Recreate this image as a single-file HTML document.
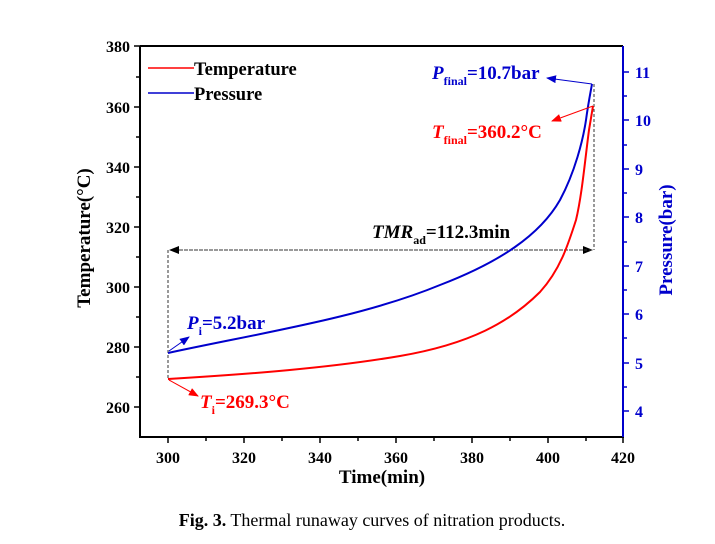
<!DOCTYPE html>
<html><head><meta charset="utf-8"><style>
html,body{margin:0;padding:0;background:#fff;}
svg{display:block;}
text{font-family:"Liberation Serif",serif;font-weight:bold;}
.cap{font-weight:normal;}
</style></head><body>
<svg width="715" height="544" viewBox="0 0 715 544" xmlns="http://www.w3.org/2000/svg">
<defs>
<marker id="ak" markerWidth="10" markerHeight="8" refX="9" refY="4" orient="auto" markerUnits="userSpaceOnUse"><path d="M0,0 L10,4 L0,8 z" fill="#000"/></marker>
<marker id="ab" markerWidth="10" markerHeight="8" refX="9" refY="4" orient="auto" markerUnits="userSpaceOnUse"><path d="M0,0 L10,4 L0,8 z" fill="#00c"/></marker>
<marker id="ar" markerWidth="10" markerHeight="8" refX="9" refY="4" orient="auto" markerUnits="userSpaceOnUse"><path d="M0,0 L10,4 L0,8 z" fill="#f00"/></marker>
</defs>
<line x1="140" y1="46" x2="623" y2="46" stroke="#000" stroke-width="2"/>
<line x1="140" y1="46" x2="140" y2="437" stroke="#000" stroke-width="2"/>
<line x1="139" y1="437" x2="624" y2="437" stroke="#000" stroke-width="2"/>
<line x1="623" y1="46" x2="623" y2="437" stroke="#00c" stroke-width="2"/>
<g stroke="#000" stroke-width="1.5">
<line x1="134" y1="46" x2="140" y2="46"/><line x1="134" y1="107" x2="140" y2="107"/><line x1="134" y1="167" x2="140" y2="167"/><line x1="134" y1="227" x2="140" y2="227"/><line x1="134" y1="287" x2="140" y2="287"/><line x1="134" y1="347" x2="140" y2="347"/><line x1="134" y1="407" x2="140" y2="407"/>
<line x1="136" y1="77" x2="140" y2="77"/><line x1="136" y1="137" x2="140" y2="137"/><line x1="136" y1="197" x2="140" y2="197"/><line x1="136" y1="257" x2="140" y2="257"/><line x1="136" y1="317" x2="140" y2="317"/><line x1="136" y1="377" x2="140" y2="377"/>
<line x1="168" y1="437" x2="168" y2="443"/><line x1="244" y1="437" x2="244" y2="443"/><line x1="320" y1="437" x2="320" y2="443"/><line x1="396" y1="437" x2="396" y2="443"/><line x1="472" y1="437" x2="472" y2="443"/><line x1="548" y1="437" x2="548" y2="443"/><line x1="623" y1="437" x2="623" y2="443"/>
<line x1="206" y1="437" x2="206" y2="441"/><line x1="282" y1="437" x2="282" y2="441"/><line x1="358" y1="437" x2="358" y2="441"/><line x1="434" y1="437" x2="434" y2="441"/><line x1="510" y1="437" x2="510" y2="441"/><line x1="586" y1="437" x2="586" y2="441"/>
</g>
<g stroke="#00c" stroke-width="1.5">
<line x1="623" y1="72" x2="629" y2="72"/><line x1="623" y1="120" x2="629" y2="120"/><line x1="623" y1="169" x2="629" y2="169"/><line x1="623" y1="217" x2="629" y2="217"/><line x1="623" y1="266" x2="629" y2="266"/><line x1="623" y1="314" x2="629" y2="314"/><line x1="623" y1="363" x2="629" y2="363"/><line x1="623" y1="411" x2="629" y2="411"/>
<line x1="623" y1="96" x2="627" y2="96"/><line x1="623" y1="145" x2="627" y2="145"/><line x1="623" y1="193" x2="627" y2="193"/><line x1="623" y1="242" x2="627" y2="242"/><line x1="623" y1="290" x2="627" y2="290"/><line x1="623" y1="338" x2="627" y2="338"/><line x1="623" y1="387" x2="627" y2="387"/>
</g>
<g font-size="16" text-anchor="end" fill="#000">
<text x="130" y="52">380</text><text x="130" y="113">360</text><text x="130" y="173">340</text><text x="130" y="233">320</text><text x="130" y="293">300</text><text x="130" y="353">280</text><text x="130" y="413">260</text>
</g>
<g font-size="16" text-anchor="middle" fill="#000">
<text x="168" y="463">300</text><text x="244" y="463">320</text><text x="320" y="463">340</text><text x="396" y="463">360</text><text x="472" y="463">380</text><text x="548" y="463">400</text><text x="623" y="463">420</text>
</g>
<g font-size="16" fill="#00c">
<text x="635" y="78">11</text><text x="635" y="126">10</text><text x="635" y="175">9</text><text x="635" y="223">8</text><text x="635" y="272">7</text><text x="635" y="320">6</text><text x="635" y="369">5</text><text x="635" y="417">4</text>
</g>
<text x="382" y="483" font-size="19" text-anchor="middle">Time(min)</text>
<text transform="translate(90,238) rotate(-90)" font-size="19" text-anchor="middle">Temperature(°C)</text>
<text transform="translate(672,240) rotate(-90)" font-size="19" text-anchor="middle" fill="#00c">Pressure(bar)</text>
<line x1="148" y1="68" x2="194" y2="68" stroke="#f00" stroke-width="1.5"/>
<text x="194" y="75" font-size="18.5">Temperature</text>
<line x1="148" y1="93" x2="194" y2="93" stroke="#00c" stroke-width="1.5"/>
<text x="194" y="100" font-size="18.5">Pressure</text>
<g stroke="#333" stroke-width="1" stroke-dasharray="3,2" fill="none">
<line x1="168" y1="250" x2="168" y2="379"/>
<line x1="594" y1="84" x2="594" y2="250"/>
<line x1="170" y1="250" x2="592" y2="250" marker-end="url(#ak)"/>
<line x1="592" y1="250" x2="170" y2="250" marker-end="url(#ak)"/>
</g>
<path d="M168,379 C250,374 330,368 400,356 C470,344 510,322 540,292 C560,270 568,245 576,220 C582,195 585,160 589,130 L593,106" fill="none" stroke="#f00" stroke-width="2"/>
<path d="M168,353 C260,333 360,318 440,285 C500,262 540,235 560,200 C575,172 583,140 586,120 C588,105 590,95 592,84" fill="none" stroke="#00c" stroke-width="2"/>
<line x1="592" y1="84" x2="547" y2="78" stroke="#00c" stroke-width="1" marker-end="url(#ab)"/>
<text x="432" y="79" font-size="19" fill="#00c"><tspan font-style="italic">P</tspan><tspan font-size="12" dy="6">final</tspan><tspan dy="-6">=10.7bar</tspan></text>
<line x1="593" y1="106" x2="552" y2="121" stroke="#f00" stroke-width="1" marker-end="url(#ar)"/>
<text x="432" y="138" font-size="19" fill="#f00"><tspan font-style="italic">T</tspan><tspan font-size="12" dy="6">final</tspan><tspan dy="-6">=360.2°C</tspan></text>
<text x="372" y="238" font-size="19"><tspan font-style="italic">TMR</tspan><tspan font-size="12" dy="6">ad</tspan><tspan dy="-6">=112.3min</tspan></text>
<line x1="169" y1="351" x2="189" y2="337" stroke="#00c" stroke-width="1" marker-end="url(#ab)"/>
<text x="187" y="329" font-size="19" fill="#00c"><tspan font-style="italic">P</tspan><tspan font-size="12" dy="6">i</tspan><tspan dy="-6">=5.2bar</tspan></text>
<line x1="169" y1="380" x2="198" y2="396" stroke="#f00" stroke-width="1" marker-end="url(#ar)"/>
<text x="200" y="408" font-size="19" fill="#f00"><tspan font-style="italic">T</tspan><tspan font-size="12" dy="6">i</tspan><tspan dy="-6">=269.3°C</tspan></text>
<text x="372" y="526" font-size="18" text-anchor="middle" class="cap"><tspan style="font-weight:bold">Fig. 3.</tspan>  Thermal runaway curves of nitration products.</text>
</svg>
</body></html>
